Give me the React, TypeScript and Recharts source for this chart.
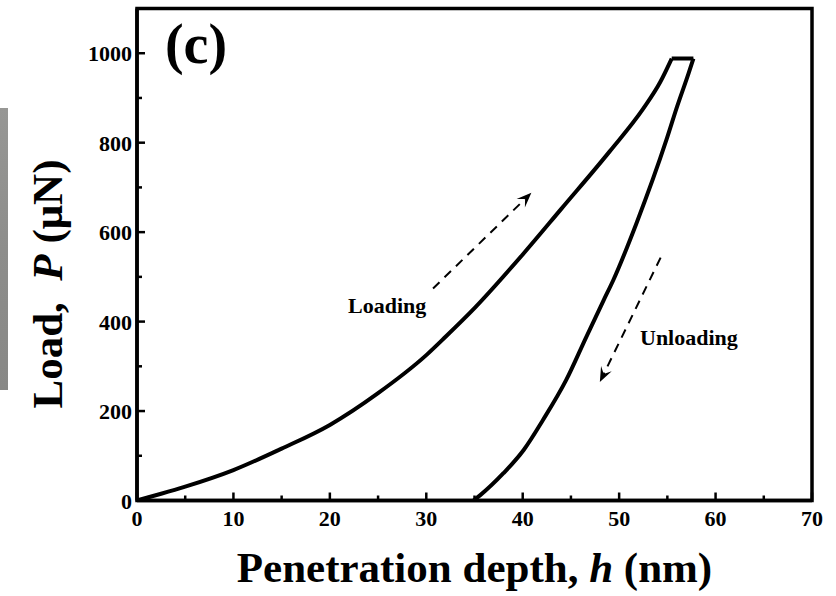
import { LineChart, Line, XAxis, YAxis, ReferenceArea, ReferenceLine } from "recharts";

// loading branch (h in nm, P in uN)
const loadH = [0, 2.5, 5, 10, 15, 20, 25, 30, 32, 35, 40, 44, 49, 52.5, 54.25, 55.45];
const loadP = [0, 15, 31, 68, 116, 169, 240, 325, 366, 430, 550, 652, 780, 876, 935, 988];

// hold at peak load
const holdH = [55.45, 57.7];
const holdP = [988, 988];

// unloading branch, listed from the residual depth up to the peak
const unloadH = [34.9, 35.6, 38.0, 40.1, 42.1, 44.5, 46.6, 48.4, 49.4, 51.8, 54.9, 56.0, 57.2, 57.7];
const unloadP = [0, 12, 61, 113, 180, 269, 366, 448, 493, 620, 806, 880, 955, 988];

const xTicks = [0, 5, 10, 15, 20, 25, 30, 35, 40, 45, 50, 55, 60, 65, 70];
const yTicks = [0, 100, 200, 300, 400, 500, 600, 700, 800, 900, 1000];

// direction arrows: [fromH, fromP, toH, toP]
const loadArrow = [30.7, 474, 40.9, 688];
const unloadArrow = [54.3, 543, 48.0, 265];

const loadData = loadH.map((h, i) => ({ h, P: loadP[i] }));
const holdData = holdH.map((h, i) => ({ h, P: holdP[i] }));
const unloadData = unloadH.map((h, i) => ({ h, P: unloadP[i] }));

const W = 836;
const H = 596;
const PLOT_LEFT = 137;
const PLOT_RIGHT = 812;
const PLOT_TOP = 8.5;
const PLOT_BOTTOM = 500.5;
const FONT = "'Liberation Serif', 'Times New Roman', serif";

function XTick(props: any) {
  const { x, payload } = props;
  const major = payload.value % 10 === 0;
  return (
    <g>
      <line x1={x} x2={x} y1={PLOT_BOTTOM} y2={PLOT_BOTTOM - (major ? 8 : 5)} stroke="#000" strokeWidth={2.5} />
      {major && (
        <text x={x} y={PLOT_BOTTOM + 25} textAnchor="middle" fontFamily={FONT} fontWeight="bold" fontSize={22} fill="#000">
          {payload.value}
        </text>
      )}
    </g>
  );
}

function YTick(props: any) {
  const { y, payload } = props;
  const major = payload.value % 200 === 0;
  return (
    <g>
      <line x1={PLOT_LEFT} x2={PLOT_LEFT + (major ? 8 : 5)} y1={y} y2={y} stroke="#000" strokeWidth={2.5} />
      {major && (
        <text x={PLOT_LEFT - 5} y={y + 8} textAnchor="end" fontFamily={FONT} fontWeight="bold" fontSize={22} fill="#000">
          {payload.value}
        </text>
      )}
    </g>
  );
}

function Arrow(props: any) {
  const { x1, y1, x2, y2 } = props;
  if (x1 == null) return null;
  const ang = Math.atan2(y2 - y1, x2 - x1);
  const len = 16;
  const spread = 0.38;
  const bx = x2 - Math.cos(ang) * len * 0.55;
  const by = y2 - Math.sin(ang) * len * 0.55;
  const lx = x2 - Math.cos(ang - spread) * len;
  const ly = y2 - Math.sin(ang - spread) * len;
  const rx = x2 - Math.cos(ang + spread) * len;
  const ry = y2 - Math.sin(ang + spread) * len;
  return (
    <g>
      <line x1={x1} y1={y1} x2={bx} y2={by} stroke="#000" strokeWidth={2} strokeDasharray="9 7" />
      <polygon points={`${x2},${y2} ${lx},${ly} ${bx},${by} ${rx},${ry}`} fill="#000" />
    </g>
  );
}

export default function App() {
  return (
    <div style={{ position: "absolute", left: 0, top: 0, width: W, height: H, background: "#fff", fontFamily: FONT }}>
      <div
        style={{
          position: "absolute",
          left: 0,
          top: 108,
          width: 8,
          height: 282,
          background: "linear-gradient(180deg, #979795 0%, #8d8d8b 50%, #888886 100%)",
        }}
      />
      <LineChart width={W} height={H} margin={{ top: PLOT_TOP, right: W - PLOT_RIGHT, left: PLOT_LEFT - 60, bottom: H - PLOT_BOTTOM - 30 }}>
        <XAxis
          type="number"
          dataKey="h"
          domain={[0, 70]}
          ticks={xTicks}
          interval={0}
          height={30}
          axisLine={{ stroke: "#000", strokeWidth: 3.5 }}
          tickLine={false}
          tick={<XTick />}
          allowDataOverflow
        />
        <YAxis
          type="number"
          dataKey="P"
          domain={[0, 1100]}
          ticks={yTicks}
          interval={0}
          width={60}
          axisLine={{ stroke: "#000", strokeWidth: 3.5 }}
          tickLine={false}
          tick={<YTick />}
          allowDataOverflow
        />
        <ReferenceArea x1={0} x2={70} y1={0} y2={1100} fill="none" stroke="#000" strokeWidth={3.5} fillOpacity={0} />
        <Line data={loadData} dataKey="P" type="monotone" stroke="#000" strokeWidth={4} dot={false} isAnimationActive={false} />
        <Line data={holdData} dataKey="P" type="linear" stroke="#000" strokeWidth={4} dot={false} isAnimationActive={false} />
        <Line data={unloadData} dataKey="P" type="monotone" stroke="#000" strokeWidth={4} dot={false} isAnimationActive={false} />
        <ReferenceLine
          segment={[{ x: loadArrow[0], y: loadArrow[1] }, { x: loadArrow[2], y: loadArrow[3] }]}
          shape={(p: any) => <Arrow {...p} />}
        />
        <ReferenceLine
          segment={[{ x: unloadArrow[0], y: unloadArrow[1] }, { x: unloadArrow[2], y: unloadArrow[3] }]}
          shape={(p: any) => <Arrow {...p} />}
        />
      </LineChart>
      <svg width={W} height={H} style={{ position: "absolute", left: 0, top: 0, pointerEvents: "none" }}>
        <text x={196} y={63} textAnchor="middle" fontFamily={FONT} fontWeight="bold" fontSize={56} fill="#000">
          (c)
        </text>
        <text x={348} y={313} fontFamily={FONT} fontWeight="bold" fontSize={22} fill="#000">
          Loading
        </text>
        <text x={640} y={345} fontFamily={FONT} fontWeight="bold" fontSize={22} fill="#000">
          Unloading
        </text>
        <text x={474.5} y={582} textAnchor="middle" fontFamily={FONT} fontWeight="bold" fontSize={43} fill="#000">
          Penetration depth, <tspan fontStyle="italic">h</tspan> (nm)
        </text>
        <text
          transform="translate(62,284) rotate(-90)"
          textAnchor="middle"
          fontFamily={FONT}
          fontWeight="bold"
          fontSize={43}
          fill="#000"
        >
          Load,{"\u00a0\u00a0"}<tspan fontStyle="italic">P</tspan> (μN)
        </text>
      </svg>
    </div>
  );
}
